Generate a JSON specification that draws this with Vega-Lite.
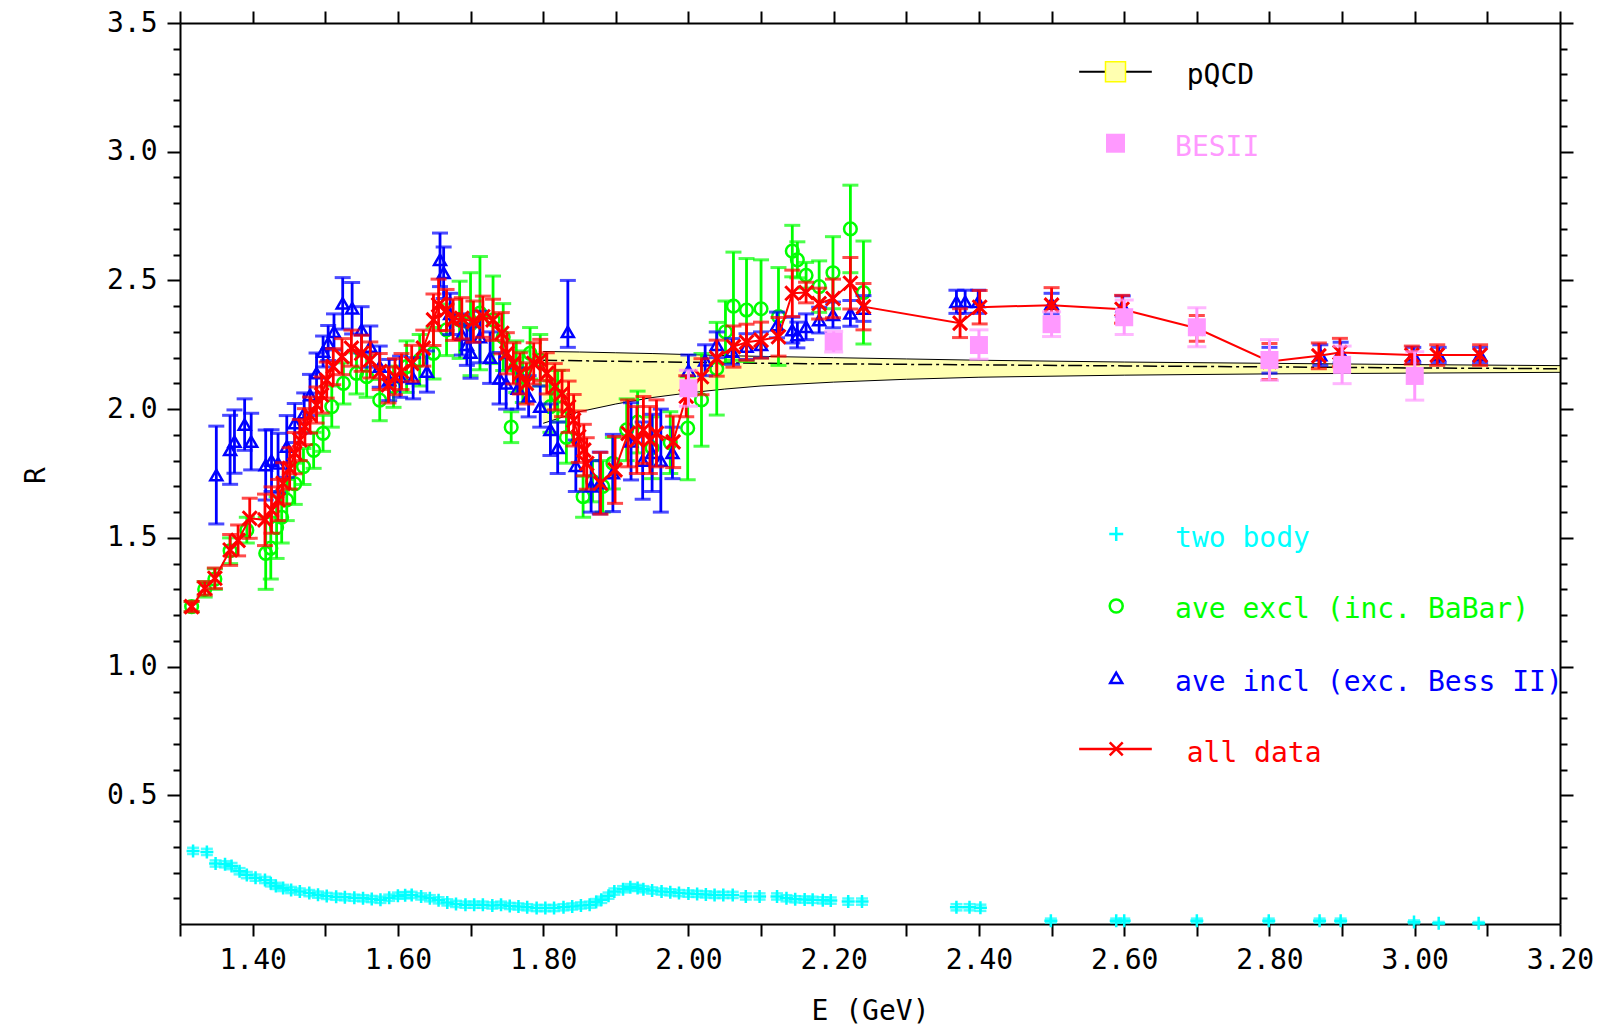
{
"$schema": "https://vega.github.io/schema/vega-lite/v6.json",
"width": 1380, "height": 901,
"autosize": {"type": "none"},
"padding": {"left": 180, "top": 23, "right": 42, "bottom": 101},
"background": "white",
"config": {"view": {"stroke": null}, "font": "DejaVu Sans Mono",
 "axis": {"domainColor": "black", "domainWidth": 2, "tickColor": "black", "tickWidth": 2, "grid": false, "labelFont": "DejaVu Sans Mono", "labelFontSize": 28, "labelColor": "black", "labelOverlap": false, "labelFlush": false, "labelBound": false, "titleFont": "DejaVu Sans Mono", "titleFontSize": 28, "titleFontWeight": "normal", "titleColor": "black"}},
"datasets": {
"qcd": [
{"E":1.80,"lo":1.945,"hi":2.224,"mid":2.19},{"E":1.85,"lo":1.99,"hi":2.222,"mid":2.188},{"E":1.90,"lo":2.02,"hi":2.219,"mid":2.186},{"E":1.95,"lo":2.045,"hi":2.216,"mid":2.184},{"E":2.00,"lo":2.063,"hi":2.212,"mid":2.182},{"E":2.05,"lo":2.078,"hi":2.208,"mid":2.18},{"E":2.10,"lo":2.09,"hi":2.205,"mid":2.178},{"E":2.20,"lo":2.105,"hi":2.2,"mid":2.176},{"E":2.30,"lo":2.116,"hi":2.195,"mid":2.174},{"E":2.40,"lo":2.124,"hi":2.19,"mid":2.172},{"E":2.60,"lo":2.132,"hi":2.183,"mid":2.168},{"E":2.80,"lo":2.137,"hi":2.178,"mid":2.164},{"E":3.00,"lo":2.14,"hi":2.173,"mid":2.16},{"E":3.20,"lo":2.143,"hi":2.169,"mid":2.157}
],
"pts": [
{"s":"all","E":1.316,"R":1.233,"lo":1.213,"hi":1.253},{"s":"all","E":1.334,"R":1.304,"lo":1.278,"hi":1.33},{"s":"all","E":1.348,"R":1.343,"lo":1.303,"hi":1.383},{"s":"all","E":1.369,"R":1.453,"lo":1.393,"hi":1.513},{"s":"all","E":1.38,"R":1.49,"lo":1.43,"hi":1.55},{"s":"all","E":1.396,"R":1.576,"lo":1.498,"hi":1.654},{"s":"all","E":1.417,"R":1.57,"lo":1.47,"hi":1.67},{"s":"all","E":1.426,"R":1.608,"lo":1.518,"hi":1.698},{"s":"all","E":1.435,"R":1.647,"lo":1.567,"hi":1.727},{"s":"all","E":1.442,"R":1.712,"lo":1.632,"hi":1.792},{"s":"all","E":1.451,"R":1.77,"lo":1.69,"hi":1.85},{"s":"all","E":1.458,"R":1.829,"lo":1.749,"hi":1.909},{"s":"all","E":1.465,"R":1.88,"lo":1.8,"hi":1.96},{"s":"all","E":1.472,"R":1.932,"lo":1.862,"hi":2.002},{"s":"all","E":1.479,"R":1.977,"lo":1.907,"hi":2.047},{"s":"all","E":1.488,"R":2.016,"lo":1.946,"hi":2.086},{"s":"all","E":1.495,"R":2.055,"lo":1.985,"hi":2.125},{"s":"all","E":1.502,"R":2.113,"lo":2.043,"hi":2.183},{"s":"all","E":1.511,"R":2.165,"lo":2.095,"hi":2.235},{"s":"all","E":1.523,"R":2.204,"lo":2.134,"hi":2.274},{"s":"all","E":1.536,"R":2.237,"lo":2.167,"hi":2.307},{"s":"all","E":1.55,"R":2.217,"lo":2.147,"hi":2.287},{"s":"all","E":1.562,"R":2.191,"lo":2.121,"hi":2.261},{"s":"all","E":1.575,"R":2.146,"lo":2.076,"hi":2.216},{"s":"all","E":1.587,"R":2.094,"lo":2.024,"hi":2.164},{"s":"all","E":1.596,"R":2.126,"lo":2.056,"hi":2.196},{"s":"all","E":1.605,"R":2.146,"lo":2.076,"hi":2.216},{"s":"all","E":1.619,"R":2.178,"lo":2.108,"hi":2.248},{"s":"all","E":1.635,"R":2.237,"lo":2.167,"hi":2.307},{"s":"all","E":1.649,"R":2.347,"lo":2.247,"hi":2.447},{"s":"all","E":1.656,"R":2.405,"lo":2.305,"hi":2.505},{"s":"all","E":1.667,"R":2.385,"lo":2.305,"hi":2.465},{"s":"all","E":1.676,"R":2.347,"lo":2.267,"hi":2.427},{"s":"all","E":1.688,"R":2.353,"lo":2.273,"hi":2.433},{"s":"all","E":1.704,"R":2.34,"lo":2.26,"hi":2.42},{"s":"all","E":1.717,"R":2.359,"lo":2.279,"hi":2.439},{"s":"all","E":1.731,"R":2.347,"lo":2.267,"hi":2.427},{"s":"all","E":1.743,"R":2.295,"lo":2.215,"hi":2.375},{"s":"all","E":1.75,"R":2.217,"lo":2.137,"hi":2.297},{"s":"all","E":1.759,"R":2.178,"lo":2.098,"hi":2.258},{"s":"all","E":1.768,"R":2.139,"lo":2.059,"hi":2.219},{"s":"all","E":1.777,"R":2.1,"lo":2.02,"hi":2.18},{"s":"all","E":1.787,"R":2.178,"lo":2.098,"hi":2.258},{"s":"all","E":1.796,"R":2.191,"lo":2.111,"hi":2.271},{"s":"all","E":1.805,"R":2.139,"lo":2.059,"hi":2.219},{"s":"all","E":1.816,"R":2.087,"lo":1.997,"hi":2.177},{"s":"all","E":1.826,"R":2.061,"lo":1.971,"hi":2.151},{"s":"all","E":1.835,"R":2.009,"lo":1.909,"hi":2.109},{"s":"all","E":1.842,"R":1.957,"lo":1.857,"hi":2.057},{"s":"all","E":1.849,"R":1.893,"lo":1.793,"hi":1.993},{"s":"all","E":1.856,"R":1.841,"lo":1.741,"hi":1.941},{"s":"all","E":1.86,"R":1.789,"lo":1.689,"hi":1.889},{"s":"all","E":1.879,"R":1.712,"lo":1.592,"hi":1.832},{"s":"all","E":1.899,"R":1.764,"lo":1.634,"hi":1.894},{"s":"all","E":1.917,"R":1.906,"lo":1.776,"hi":2.036},{"s":"all","E":1.929,"R":1.88,"lo":1.75,"hi":2.01},{"s":"all","E":1.938,"R":1.919,"lo":1.789,"hi":2.049},{"s":"all","E":1.947,"R":1.88,"lo":1.75,"hi":2.01},{"s":"all","E":1.956,"R":1.906,"lo":1.776,"hi":2.036},{"s":"all","E":1.979,"R":1.873,"lo":1.773,"hi":1.973},{"s":"all","E":1.997,"R":2.05,"lo":1.97,"hi":2.13},{"s":"all","E":2.018,"R":2.126,"lo":2.056,"hi":2.196},{"s":"all","E":2.039,"R":2.198,"lo":2.128,"hi":2.268},{"s":"all","E":2.062,"R":2.243,"lo":2.163,"hi":2.323},{"s":"all","E":2.08,"R":2.26,"lo":2.19,"hi":2.33},{"s":"all","E":2.1,"R":2.268,"lo":2.198,"hi":2.338},{"s":"all","E":2.124,"R":2.281,"lo":2.206,"hi":2.356},{"s":"all","E":2.143,"R":2.45,"lo":2.36,"hi":2.54},{"s":"all","E":2.162,"R":2.453,"lo":2.413,"hi":2.493},{"s":"all","E":2.18,"R":2.41,"lo":2.35,"hi":2.47},{"s":"all","E":2.199,"R":2.43,"lo":2.355,"hi":2.505},{"s":"all","E":2.223,"R":2.489,"lo":2.389,"hi":2.589},{"s":"all","E":2.241,"R":2.398,"lo":2.308,"hi":2.488},{"s":"all","E":2.374,"R":2.334,"lo":2.278,"hi":2.39},{"s":"all","E":2.401,"R":2.396,"lo":2.331,"hi":2.461},{"s":"all","E":2.5,"R":2.404,"lo":2.336,"hi":2.472},{"s":"all","E":2.597,"R":2.388,"lo":2.334,"hi":2.442},{"s":"all","E":2.7,"R":2.314,"lo":2.264,"hi":2.364},{"s":"all","E":2.8,"R":2.185,"lo":2.115,"hi":2.255},{"s":"all","E":2.868,"R":2.207,"lo":2.157,"hi":2.257},{"s":"all","E":2.897,"R":2.22,"lo":2.165,"hi":2.275},{"s":"all","E":2.996,"R":2.21,"lo":2.175,"hi":2.245},{"s":"all","E":3.031,"R":2.21,"lo":2.17,"hi":2.25},{"s":"all","E":3.09,"R":2.21,"lo":2.17,"hi":2.25},
{"s":"excl","E":1.316,"R":1.233,"lo":1.213,"hi":1.253},{"s":"excl","E":1.334,"R":1.3,"lo":1.27,"hi":1.33},{"s":"excl","E":1.348,"R":1.34,"lo":1.3,"hi":1.38},{"s":"excl","E":1.369,"R":1.45,"lo":1.4,"hi":1.5},{"s":"excl","E":1.392,"R":1.53,"lo":1.48,"hi":1.58},{"s":"excl","E":1.418,"R":1.44,"lo":1.3,"hi":1.58},{"s":"excl","E":1.425,"R":1.46,"lo":1.34,"hi":1.58},{"s":"excl","E":1.433,"R":1.54,"lo":1.42,"hi":1.66},{"s":"excl","E":1.44,"R":1.58,"lo":1.48,"hi":1.68},{"s":"excl","E":1.447,"R":1.647,"lo":1.567,"hi":1.727},{"s":"excl","E":1.458,"R":1.71,"lo":1.63,"hi":1.79},{"s":"excl","E":1.47,"R":1.777,"lo":1.707,"hi":1.847},{"s":"excl","E":1.484,"R":1.84,"lo":1.77,"hi":1.91},{"s":"excl","E":1.497,"R":1.906,"lo":1.836,"hi":1.976},{"s":"excl","E":1.509,"R":2.01,"lo":1.93,"hi":2.09},{"s":"excl","E":1.525,"R":2.1,"lo":2.02,"hi":2.18},{"s":"excl","E":1.543,"R":2.139,"lo":2.059,"hi":2.219},{"s":"excl","E":1.557,"R":2.126,"lo":2.046,"hi":2.206},{"s":"excl","E":1.575,"R":2.035,"lo":1.955,"hi":2.115},{"s":"excl","E":1.594,"R":2.087,"lo":2.007,"hi":2.167},{"s":"excl","E":1.612,"R":2.165,"lo":2.065,"hi":2.265},{"s":"excl","E":1.63,"R":2.19,"lo":2.09,"hi":2.29},{"s":"excl","E":1.649,"R":2.217,"lo":2.117,"hi":2.317},{"s":"excl","E":1.667,"R":2.308,"lo":2.208,"hi":2.408},{"s":"excl","E":1.685,"R":2.347,"lo":2.197,"hi":2.497},{"s":"excl","E":1.7,"R":2.33,"lo":2.13,"hi":2.53},{"s":"excl","E":1.713,"R":2.373,"lo":2.153,"hi":2.593},{"s":"excl","E":1.731,"R":2.347,"lo":2.177,"hi":2.517},{"s":"excl","E":1.745,"R":2.28,"lo":2.15,"hi":2.41},{"s":"excl","E":1.756,"R":1.93,"lo":1.87,"hi":1.99},{"s":"excl","E":1.763,"R":2.165,"lo":2.065,"hi":2.265},{"s":"excl","E":1.772,"R":2.126,"lo":2.026,"hi":2.226},{"s":"excl","E":1.782,"R":2.217,"lo":2.117,"hi":2.317},{"s":"excl","E":1.796,"R":2.19,"lo":2.09,"hi":2.29},{"s":"excl","E":1.81,"R":2.01,"lo":1.91,"hi":2.11},{"s":"excl","E":1.82,"R":2.05,"lo":1.95,"hi":2.15},{"s":"excl","E":1.832,"R":1.89,"lo":1.79,"hi":1.99},{"s":"excl","E":1.855,"R":1.66,"lo":1.58,"hi":1.74},{"s":"excl","E":1.868,"R":1.72,"lo":1.64,"hi":1.8},{"s":"excl","E":1.882,"R":1.7,"lo":1.6,"hi":1.8},{"s":"excl","E":1.896,"R":1.79,"lo":1.69,"hi":1.89},{"s":"excl","E":1.915,"R":1.92,"lo":1.8,"hi":2.04},{"s":"excl","E":1.93,"R":1.95,"lo":1.83,"hi":2.07},{"s":"excl","E":1.95,"R":1.85,"lo":1.73,"hi":1.97},{"s":"excl","E":1.975,"R":1.87,"lo":1.75,"hi":1.99},{"s":"excl","E":1.999,"R":1.926,"lo":1.726,"hi":2.126},{"s":"excl","E":2.018,"R":2.036,"lo":1.856,"hi":2.216},{"s":"excl","E":2.039,"R":2.157,"lo":1.977,"hi":2.337},{"s":"excl","E":2.051,"R":2.3,"lo":2.18,"hi":2.42},{"s":"excl","E":2.062,"R":2.4,"lo":2.19,"hi":2.61},{"s":"excl","E":2.08,"R":2.385,"lo":2.185,"hi":2.585},{"s":"excl","E":2.1,"R":2.39,"lo":2.2,"hi":2.58},{"s":"excl","E":2.124,"R":2.36,"lo":2.17,"hi":2.55},{"s":"excl","E":2.143,"R":2.614,"lo":2.514,"hi":2.714},{"s":"excl","E":2.15,"R":2.58,"lo":2.51,"hi":2.65},{"s":"excl","E":2.162,"R":2.52,"lo":2.47,"hi":2.57},{"s":"excl","E":2.18,"R":2.476,"lo":2.376,"hi":2.576},{"s":"excl","E":2.199,"R":2.53,"lo":2.39,"hi":2.67},{"s":"excl","E":2.223,"R":2.7,"lo":2.53,"hi":2.87},{"s":"excl","E":2.241,"R":2.453,"lo":2.253,"hi":2.653},
{"s":"incl","E":1.35,"R":1.744,"lo":1.554,"hi":1.934},{"s":"incl","E":1.369,"R":1.842,"lo":1.708,"hi":1.976},{"s":"incl","E":1.375,"R":1.874,"lo":1.751,"hi":1.997},{"s":"incl","E":1.389,"R":1.94,"lo":1.84,"hi":2.04},{"s":"incl","E":1.398,"R":1.874,"lo":1.764,"hi":1.984},{"s":"incl","E":1.418,"R":1.783,"lo":1.647,"hi":1.919},{"s":"incl","E":1.426,"R":1.8,"lo":1.68,"hi":1.92},{"s":"incl","E":1.435,"R":1.79,"lo":1.674,"hi":1.906},{"s":"incl","E":1.447,"R":1.855,"lo":1.735,"hi":1.975},{"s":"incl","E":1.458,"R":1.946,"lo":1.87,"hi":2.022},{"s":"incl","E":1.471,"R":1.985,"lo":1.907,"hi":2.063},{"s":"incl","E":1.479,"R":2.055,"lo":1.975,"hi":2.135},{"s":"incl","E":1.488,"R":2.14,"lo":2.062,"hi":2.218},{"s":"incl","E":1.497,"R":2.224,"lo":2.164,"hi":2.284},{"s":"incl","E":1.504,"R":2.257,"lo":2.189,"hi":2.325},{"s":"incl","E":1.512,"R":2.3,"lo":2.23,"hi":2.37},{"s":"incl","E":1.524,"R":2.411,"lo":2.311,"hi":2.511},{"s":"incl","E":1.537,"R":2.392,"lo":2.292,"hi":2.492},{"s":"incl","E":1.55,"R":2.308,"lo":2.218,"hi":2.398},{"s":"incl","E":1.562,"R":2.243,"lo":2.163,"hi":2.323},{"s":"incl","E":1.575,"R":2.165,"lo":2.085,"hi":2.245},{"s":"incl","E":1.588,"R":2.113,"lo":2.033,"hi":2.193},{"s":"incl","E":1.603,"R":2.126,"lo":2.046,"hi":2.206},{"s":"incl","E":1.621,"R":2.12,"lo":2.04,"hi":2.2},{"s":"incl","E":1.64,"R":2.146,"lo":2.066,"hi":2.226},{"s":"incl","E":1.658,"R":2.58,"lo":2.476,"hi":2.684},{"s":"incl","E":1.663,"R":2.53,"lo":2.43,"hi":2.63},{"s":"incl","E":1.672,"R":2.37,"lo":2.29,"hi":2.45},{"s":"incl","E":1.688,"R":2.29,"lo":2.21,"hi":2.37},{"s":"incl","E":1.695,"R":2.25,"lo":2.17,"hi":2.33},{"s":"incl","E":1.7,"R":2.22,"lo":2.12,"hi":2.32},{"s":"incl","E":1.713,"R":2.28,"lo":2.18,"hi":2.38},{"s":"incl","E":1.727,"R":2.2,"lo":2.1,"hi":2.3},{"s":"incl","E":1.74,"R":2.12,"lo":2.02,"hi":2.22},{"s":"incl","E":1.749,"R":2.1,"lo":2.0,"hi":2.2},{"s":"incl","E":1.765,"R":2.08,"lo":2.0,"hi":2.16},{"s":"incl","E":1.78,"R":2.05,"lo":1.97,"hi":2.13},{"s":"incl","E":1.796,"R":2.01,"lo":1.93,"hi":2.09},{"s":"incl","E":1.81,"R":1.92,"lo":1.82,"hi":2.02},{"s":"incl","E":1.82,"R":1.85,"lo":1.75,"hi":1.95},{"s":"incl","E":1.834,"R":2.3,"lo":2.24,"hi":2.5},{"s":"incl","E":1.845,"R":1.78,"lo":1.68,"hi":1.88},{"s":"incl","E":1.866,"R":1.7,"lo":1.6,"hi":1.8},{"s":"incl","E":1.878,"R":1.713,"lo":1.593,"hi":1.833},{"s":"incl","E":1.896,"R":1.752,"lo":1.602,"hi":1.902},{"s":"incl","E":1.921,"R":1.875,"lo":1.725,"hi":2.025},{"s":"incl","E":1.937,"R":1.8,"lo":1.65,"hi":1.95},{"s":"incl","E":1.95,"R":1.83,"lo":1.68,"hi":1.98},{"s":"incl","E":1.962,"R":1.8,"lo":1.6,"hi":2.0},{"s":"incl","E":1.978,"R":1.83,"lo":1.73,"hi":1.93},{"s":"incl","E":2.0,"R":2.15,"lo":2.09,"hi":2.21},{"s":"incl","E":2.023,"R":2.19,"lo":2.13,"hi":2.25},{"s":"incl","E":2.039,"R":2.25,"lo":2.2,"hi":2.3},{"s":"incl","E":2.06,"R":2.224,"lo":2.174,"hi":2.274},{"s":"incl","E":2.08,"R":2.243,"lo":2.193,"hi":2.293},{"s":"incl","E":2.1,"R":2.25,"lo":2.2,"hi":2.3},{"s":"incl","E":2.122,"R":2.327,"lo":2.277,"hi":2.377},{"s":"incl","E":2.143,"R":2.307,"lo":2.257,"hi":2.357},{"s":"incl","E":2.15,"R":2.288,"lo":2.238,"hi":2.338},{"s":"incl","E":2.162,"R":2.32,"lo":2.27,"hi":2.37},{"s":"incl","E":2.18,"R":2.346,"lo":2.296,"hi":2.396},{"s":"incl","E":2.199,"R":2.366,"lo":2.316,"hi":2.416},{"s":"incl","E":2.223,"R":2.372,"lo":2.322,"hi":2.422},{"s":"incl","E":2.241,"R":2.391,"lo":2.341,"hi":2.441},{"s":"incl","E":2.369,"R":2.417,"lo":2.372,"hi":2.462},{"s":"incl","E":2.381,"R":2.417,"lo":2.372,"hi":2.462},{"s":"incl","E":2.399,"R":2.417,"lo":2.372,"hi":2.462},{"s":"incl","E":2.5,"R":2.41,"lo":2.37,"hi":2.45},{"s":"incl","E":2.598,"R":2.4,"lo":2.36,"hi":2.44},{"s":"incl","E":2.8,"R":2.19,"lo":2.14,"hi":2.24},{"s":"incl","E":2.87,"R":2.21,"lo":2.17,"hi":2.25},{"s":"incl","E":2.898,"R":2.22,"lo":2.18,"hi":2.26},{"s":"incl","E":2.998,"R":2.21,"lo":2.18,"hi":2.24},{"s":"incl","E":3.033,"R":2.21,"lo":2.18,"hi":2.24},{"s":"incl","E":3.09,"R":2.21,"lo":2.18,"hi":2.24},
{"s":"bes","E":2.0,"R":2.081,"lo":2.011,"hi":2.151},{"s":"bes","E":2.2,"R":2.262,"lo":2.222,"hi":2.302},{"s":"bes","E":2.4,"R":2.249,"lo":2.194,"hi":2.308},{"s":"bes","E":2.5,"R":2.33,"lo":2.282,"hi":2.378},{"s":"bes","E":2.6,"R":2.357,"lo":2.29,"hi":2.424},{"s":"bes","E":2.7,"R":2.318,"lo":2.242,"hi":2.394},{"s":"bes","E":2.8,"R":2.191,"lo":2.112,"hi":2.27},{"s":"bes","E":2.9,"R":2.172,"lo":2.099,"hi":2.245},{"s":"bes","E":3.0,"R":2.129,"lo":2.035,"hi":2.223},
{"s":"two","E":1.318,"R":0.284,"lo":0.272,"hi":0.296},{"s":"two","E":1.337,"R":0.28,"lo":0.268,"hi":0.292},{"s":"two","E":1.349,"R":0.235,"lo":0.223,"hi":0.247},{"s":"two","E":1.362,"R":0.232,"lo":0.22,"hi":0.244},{"s":"two","E":1.371,"R":0.225,"lo":0.213,"hi":0.237},{"s":"two","E":1.382,"R":0.205,"lo":0.193,"hi":0.217},{"s":"two","E":1.392,"R":0.19,"lo":0.178,"hi":0.202},{"s":"two","E":1.404,"R":0.18,"lo":0.168,"hi":0.192},{"s":"two","E":1.417,"R":0.171,"lo":0.159,"hi":0.183},{"s":"two","E":1.425,"R":0.158,"lo":0.146,"hi":0.17},{"s":"two","E":1.432,"R":0.148,"lo":0.136,"hi":0.16},{"s":"two","E":1.442,"R":0.14,"lo":0.128,"hi":0.152},{"s":"two","E":1.453,"R":0.132,"lo":0.12,"hi":0.144},{"s":"two","E":1.465,"R":0.126,"lo":0.114,"hi":0.138},{"s":"two","E":1.478,"R":0.12,"lo":0.108,"hi":0.132},{"s":"two","E":1.49,"R":0.114,"lo":0.102,"hi":0.126},{"s":"two","E":1.502,"R":0.109,"lo":0.097,"hi":0.121},{"s":"two","E":1.515,"R":0.106,"lo":0.094,"hi":0.118},{"s":"two","E":1.527,"R":0.104,"lo":0.092,"hi":0.116},{"s":"two","E":1.54,"R":0.102,"lo":0.09,"hi":0.114},{"s":"two","E":1.552,"R":0.1,"lo":0.088,"hi":0.112},{"s":"two","E":1.564,"R":0.097,"lo":0.085,"hi":0.109},{"s":"two","E":1.576,"R":0.094,"lo":0.082,"hi":0.106},{"s":"two","E":1.588,"R":0.102,"lo":0.09,"hi":0.114},{"s":"two","E":1.6,"R":0.11,"lo":0.098,"hi":0.122},{"s":"two","E":1.61,"R":0.112,"lo":0.1,"hi":0.124},{"s":"two","E":1.619,"R":0.113,"lo":0.101,"hi":0.125},{"s":"two","E":1.632,"R":0.107,"lo":0.095,"hi":0.119},{"s":"two","E":1.644,"R":0.1,"lo":0.088,"hi":0.112},{"s":"two","E":1.656,"R":0.092,"lo":0.08,"hi":0.104},{"s":"two","E":1.668,"R":0.084,"lo":0.072,"hi":0.096},{"s":"two","E":1.68,"R":0.078,"lo":0.066,"hi":0.09},{"s":"two","E":1.693,"R":0.075,"lo":0.063,"hi":0.087},{"s":"two","E":1.705,"R":0.075,"lo":0.063,"hi":0.087},{"s":"two","E":1.717,"R":0.075,"lo":0.063,"hi":0.087},{"s":"two","E":1.73,"R":0.072,"lo":0.06,"hi":0.084},{"s":"two","E":1.742,"R":0.075,"lo":0.063,"hi":0.087},{"s":"two","E":1.754,"R":0.07,"lo":0.058,"hi":0.082},{"s":"two","E":1.766,"R":0.068,"lo":0.056,"hi":0.08},{"s":"two","E":1.778,"R":0.065,"lo":0.053,"hi":0.077},{"s":"two","E":1.791,"R":0.062,"lo":0.05,"hi":0.074},{"s":"two","E":1.803,"R":0.062,"lo":0.05,"hi":0.074},{"s":"two","E":1.815,"R":0.062,"lo":0.05,"hi":0.074},{"s":"two","E":1.828,"R":0.065,"lo":0.053,"hi":0.077},{"s":"two","E":1.84,"R":0.068,"lo":0.056,"hi":0.08},{"s":"two","E":1.852,"R":0.072,"lo":0.06,"hi":0.084},{"s":"two","E":1.864,"R":0.075,"lo":0.063,"hi":0.087},{"s":"two","E":1.873,"R":0.085,"lo":0.073,"hi":0.097},{"s":"two","E":1.88,"R":0.094,"lo":0.082,"hi":0.106},{"s":"two","E":1.89,"R":0.11,"lo":0.098,"hi":0.122},{"s":"two","E":1.898,"R":0.126,"lo":0.114,"hi":0.138},{"s":"two","E":1.91,"R":0.135,"lo":0.123,"hi":0.147},{"s":"two","E":1.92,"R":0.143,"lo":0.131,"hi":0.155},{"s":"two","E":1.93,"R":0.14,"lo":0.128,"hi":0.152},{"s":"two","E":1.938,"R":0.135,"lo":0.123,"hi":0.147},{"s":"two","E":1.95,"R":0.13,"lo":0.118,"hi":0.142},{"s":"two","E":1.963,"R":0.126,"lo":0.114,"hi":0.138},{"s":"two","E":1.975,"R":0.123,"lo":0.111,"hi":0.135},{"s":"two","E":1.987,"R":0.12,"lo":0.108,"hi":0.132},{"s":"two","E":2.0,"R":0.118,"lo":0.106,"hi":0.13},{"s":"two","E":2.012,"R":0.117,"lo":0.105,"hi":0.129},{"s":"two","E":2.024,"R":0.115,"lo":0.103,"hi":0.127},{"s":"two","E":2.036,"R":0.113,"lo":0.101,"hi":0.125},{"s":"two","E":2.048,"R":0.113,"lo":0.101,"hi":0.125},{"s":"two","E":2.061,"R":0.113,"lo":0.101,"hi":0.125},{"s":"two","E":2.079,"R":0.107,"lo":0.095,"hi":0.119},{"s":"two","E":2.098,"R":0.107,"lo":0.095,"hi":0.119},{"s":"two","E":2.122,"R":0.107,"lo":0.095,"hi":0.119},{"s":"two","E":2.135,"R":0.1,"lo":0.088,"hi":0.112},{"s":"two","E":2.147,"R":0.096,"lo":0.084,"hi":0.108},{"s":"two","E":2.16,"R":0.095,"lo":0.083,"hi":0.107},{"s":"two","E":2.171,"R":0.094,"lo":0.082,"hi":0.106},{"s":"two","E":2.185,"R":0.092,"lo":0.08,"hi":0.104},{"s":"two","E":2.196,"R":0.091,"lo":0.079,"hi":0.103},{"s":"two","E":2.22,"R":0.087,"lo":0.075,"hi":0.099},{"s":"two","E":2.239,"R":0.087,"lo":0.075,"hi":0.099},{"s":"two","E":2.369,"R":0.065,"lo":0.053,"hi":0.077},{"s":"two","E":2.387,"R":0.065,"lo":0.053,"hi":0.077},{"s":"two","E":2.402,"R":0.063,"lo":0.051,"hi":0.075},{"s":"two","E":2.499,"R":0.013,"lo":0.005,"hi":0.021},{"s":"two","E":2.589,"R":0.013,"lo":0.005,"hi":0.021},{"s":"two","E":2.6,"R":0.013,"lo":0.005,"hi":0.021},{"s":"two","E":2.7,"R":0.013,"lo":0.005,"hi":0.021},{"s":"two","E":2.799,"R":0.013,"lo":0.005,"hi":0.021},{"s":"two","E":2.869,"R":0.013,"lo":0.005,"hi":0.021},{"s":"two","E":2.898,"R":0.013,"lo":0.005,"hi":0.021},{"s":"two","E":2.999,"R":0.008,"lo":0.002,"hi":0.014},{"s":"two","E":3.033,"R":0.003,"lo":0.0,"hi":0.008},{"s":"two","E":3.088,"R":0.003,"lo":0.0,"hi":0.008}
]
},
"layer": [
{"data": {"name": "qcd"}, "mark": {"type": "area", "fill": "#ffff00", "fillOpacity": 0.3},
 "encoding": {
  "x": {"field": "E", "type": "quantitative", "scale": {"domain": [1.3, 3.2], "nice": false, "zero": false},
   "axis": {"orient": "bottom", "values": [1.3,1.4,1.5,1.6,1.7,1.8,1.9,2.0,2.1,2.2,2.3,2.4,2.5,2.6,2.7,2.8,2.9,3.0,3.1,3.2], "tickSize": 12, "labelPadding": 10, "labelExpr": "round(datum.value*10)%2==0 ? format(datum.value,'.2f') : ''", "title": "E (GeV)", "titleX": 690, "titleY": 95, "titleAlign": "center", "titleBaseline": "alphabetic"}},
  "y": {"field": "hi", "type": "quantitative", "scale": {"domain": [0, 3.5], "nice": false, "zero": false},
   "axis": {"orient": "left", "values": [0.5,1.0,1.5,2.0,2.5,3.0,3.5], "tickSize": 13, "labelPadding": 10, "format": ".1f", "title": "R", "titleAngle": -90, "titleX": -144, "titleY": 452, "titleAlign": "center", "titleBaseline": "middle"}},
  "y2": {"field": "lo"}}},
{"data": {"name": "qcd"}, "mark": {"type": "line", "stroke": "black", "strokeWidth": 1},
 "encoding": {
  "x": {"field": "E", "type": "quantitative", "scale": {"domain": [1.3, 3.2], "nice": false, "zero": false},
   "axis": {"orient": "top", "values": [1.3,1.4,1.5,1.6,1.7,1.8,1.9,2.0,2.1,2.2,2.3,2.4,2.5,2.6,2.7,2.8,2.9,3.0,3.1,3.2], "tickSize": 12, "labels": false, "title": null}},
  "y": {"field": "hi", "type": "quantitative", "scale": {"domain": [0, 3.5], "nice": false, "zero": false},
   "axis": {"orient": "right", "values": [0.5,1.0,1.5,2.0,2.5,3.0,3.5], "tickSize": 13, "labels": false, "title": null}}}},
{"data": {"name": "qcd"}, "mark": {"type": "line", "stroke": "black", "strokeWidth": 1},
 "encoding": {
  "x": {"field": "E", "type": "quantitative", "scale": {"domain": [1.3, 3.2], "nice": false, "zero": false}, "axis": null},
  "y": {"field": "lo", "type": "quantitative", "scale": {"domain": [0, 3.5], "nice": false, "zero": false},
   "axis": {"orient": "left", "values": [0.1,0.2,0.3,0.4,0.6,0.7,0.8,0.9,1.1,1.2,1.3,1.4,1.6,1.7,1.8,1.9,2.1,2.2,2.3,2.4,2.6,2.7,2.8,2.9,3.1,3.2,3.3,3.4], "tickSize": 7, "labels": false, "domain": false, "title": null}}}},
{"data": {"name": "qcd"}, "mark": {"type": "line", "stroke": "black", "strokeWidth": 1.5, "strokeDash": [14, 4, 3, 4]},
 "encoding": {
  "x": {"field": "E", "type": "quantitative", "scale": {"domain": [1.3, 3.2], "nice": false, "zero": false}, "axis": null},
  "y": {"field": "mid", "type": "quantitative", "scale": {"domain": [0, 3.5], "nice": false, "zero": false},
   "axis": {"orient": "right", "values": [0.1,0.2,0.3,0.4,0.6,0.7,0.8,0.9,1.1,1.2,1.3,1.4,1.6,1.7,1.8,1.9,2.1,2.2,2.3,2.4,2.6,2.7,2.8,2.9,3.1,3.2,3.3,3.4], "tickSize": 7, "labels": false, "domain": false, "title": null}}}},

{"data": {"name": "pts"}, "transform": [{"filter": "datum.s=='excl'"}], "mark": {"type": "rule", "color": "#00ff00", "strokeWidth": 2.8},
 "encoding": {"x": {"field": "E", "type": "quantitative", "scale": {"domain": [1.3, 3.2], "nice": false, "zero": false}, "axis": null}, "y": {"field": "lo", "type": "quantitative", "scale": {"domain": [0, 3.5], "nice": false, "zero": false}, "axis": null}, "y2": {"field": "hi"}}},
{"data": {"name": "pts"}, "transform": [{"filter": "datum.s=='excl'"}, {"fold": ["lo", "hi"], "as": ["k", "v"]}], "mark": {"type": "tick", "orient": "horizontal", "color": "#00ff00", "size": 16, "thickness": 3},
 "encoding": {"x": {"field": "E", "type": "quantitative", "scale": {"domain": [1.3, 3.2], "nice": false, "zero": false}, "axis": null}, "y": {"field": "v", "type": "quantitative", "scale": {"domain": [0, 3.5], "nice": false, "zero": false}, "axis": null}}},
{"data": {"name": "pts"}, "transform": [{"filter": "datum.s=='excl'"}], "mark": {"type": "point", "shape": "circle", "filled": false, "stroke": "#00ff00", "strokeWidth": 2.5, "size": 160, "opacity": 1},
 "encoding": {"x": {"field": "E", "type": "quantitative", "scale": {"domain": [1.3, 3.2], "nice": false, "zero": false}, "axis": null}, "y": {"field": "R", "type": "quantitative", "scale": {"domain": [0, 3.5], "nice": false, "zero": false}, "axis": null}}},

{"data": {"name": "pts"}, "transform": [{"filter": "datum.s=='incl'"}], "mark": {"type": "rule", "color": "#0000ff", "strokeWidth": 2.8},
 "encoding": {"x": {"field": "E", "type": "quantitative", "scale": {"domain": [1.3, 3.2], "nice": false, "zero": false}, "axis": null}, "y": {"field": "lo", "type": "quantitative", "scale": {"domain": [0, 3.5], "nice": false, "zero": false}, "axis": null}, "y2": {"field": "hi"}}},
{"data": {"name": "pts"}, "transform": [{"filter": "datum.s=='incl'"}, {"fold": ["lo", "hi"], "as": ["k", "v"]}], "mark": {"type": "tick", "orient": "horizontal", "color": "#0000ff", "size": 16, "thickness": 3},
 "encoding": {"x": {"field": "E", "type": "quantitative", "scale": {"domain": [1.3, 3.2], "nice": false, "zero": false}, "axis": null}, "y": {"field": "v", "type": "quantitative", "scale": {"domain": [0, 3.5], "nice": false, "zero": false}, "axis": null}}},
{"data": {"name": "pts"}, "transform": [{"filter": "datum.s=='incl'"}], "mark": {"type": "point", "shape": "triangle-up", "filled": false, "stroke": "#0000ff", "strokeWidth": 2.5, "size": 144, "opacity": 1},
 "encoding": {"x": {"field": "E", "type": "quantitative", "scale": {"domain": [1.3, 3.2], "nice": false, "zero": false}, "axis": null}, "y": {"field": "R", "type": "quantitative", "scale": {"domain": [0, 3.5], "nice": false, "zero": false}, "axis": null}}},

{"data": {"name": "pts"}, "transform": [{"filter": "datum.s=='all'"}], "mark": {"type": "line", "color": "#ff0000", "strokeWidth": 2},
 "encoding": {"x": {"field": "E", "type": "quantitative", "scale": {"domain": [1.3, 3.2], "nice": false, "zero": false}, "axis": null}, "y": {"field": "R", "type": "quantitative", "scale": {"domain": [0, 3.5], "nice": false, "zero": false}, "axis": null}}},
{"data": {"name": "pts"}, "transform": [{"filter": "datum.s=='all'"}], "mark": {"type": "rule", "color": "#ff0000", "strokeWidth": 2.8},
 "encoding": {"x": {"field": "E", "type": "quantitative", "scale": {"domain": [1.3, 3.2], "nice": false, "zero": false}, "axis": null}, "y": {"field": "lo", "type": "quantitative", "scale": {"domain": [0, 3.5], "nice": false, "zero": false}, "axis": null}, "y2": {"field": "hi"}}},
{"data": {"name": "pts"}, "transform": [{"filter": "datum.s=='all'"}, {"fold": ["lo", "hi"], "as": ["k", "v"]}], "mark": {"type": "tick", "orient": "horizontal", "color": "#ff0000", "size": 16, "thickness": 3},
 "encoding": {"x": {"field": "E", "type": "quantitative", "scale": {"domain": [1.3, 3.2], "nice": false, "zero": false}, "axis": null}, "y": {"field": "v", "type": "quantitative", "scale": {"domain": [0, 3.5], "nice": false, "zero": false}, "axis": null}}},
{"data": {"name": "pts"}, "transform": [{"filter": "datum.s=='all'"}], "mark": {"type": "point", "shape": "M-1,-1L1,1M-1,1L1,-1", "filled": false, "stroke": "#ff0000", "strokeWidth": 3, "size": 196, "opacity": 1},
 "encoding": {"x": {"field": "E", "type": "quantitative", "scale": {"domain": [1.3, 3.2], "nice": false, "zero": false}, "axis": null}, "y": {"field": "R", "type": "quantitative", "scale": {"domain": [0, 3.5], "nice": false, "zero": false}, "axis": null}}},

{"data": {"name": "pts"}, "transform": [{"filter": "datum.s=='bes'"}], "mark": {"type": "rule", "color": "#ff99ff", "strokeWidth": 3},
 "encoding": {"x": {"field": "E", "type": "quantitative", "scale": {"domain": [1.3, 3.2], "nice": false, "zero": false}, "axis": null}, "y": {"field": "lo", "type": "quantitative", "scale": {"domain": [0, 3.5], "nice": false, "zero": false}, "axis": null}, "y2": {"field": "hi"}}},
{"data": {"name": "pts"}, "transform": [{"filter": "datum.s=='bes'"}, {"fold": ["lo", "hi"], "as": ["k", "v"]}], "mark": {"type": "tick", "orient": "horizontal", "color": "#ff99ff", "size": 19, "thickness": 3},
 "encoding": {"x": {"field": "E", "type": "quantitative", "scale": {"domain": [1.3, 3.2], "nice": false, "zero": false}, "axis": null}, "y": {"field": "v", "type": "quantitative", "scale": {"domain": [0, 3.5], "nice": false, "zero": false}, "axis": null}}},
{"data": {"name": "pts"}, "transform": [{"filter": "datum.s=='bes'"}], "mark": {"type": "point", "shape": "square", "filled": true, "fill": "#ff99ff", "size": 324, "opacity": 1},
 "encoding": {"x": {"field": "E", "type": "quantitative", "scale": {"domain": [1.3, 3.2], "nice": false, "zero": false}, "axis": null}, "y": {"field": "R", "type": "quantitative", "scale": {"domain": [0, 3.5], "nice": false, "zero": false}, "axis": null}}},

{"data": {"name": "pts"}, "transform": [{"filter": "datum.s=='two'"}], "mark": {"type": "rule", "color": "#00ffff", "strokeWidth": 2.5},
 "encoding": {"x": {"field": "E", "type": "quantitative", "scale": {"domain": [1.3, 3.2], "nice": false, "zero": false}, "axis": null}, "y": {"field": "lo", "type": "quantitative", "scale": {"domain": [0, 3.5], "nice": false, "zero": false}, "axis": null}, "y2": {"field": "hi"}}},
{"data": {"name": "pts"}, "transform": [{"filter": "datum.s=='two'"}, {"fold": ["lo", "hi"], "as": ["k", "v"]}], "mark": {"type": "tick", "orient": "horizontal", "color": "#00ffff", "size": 12, "thickness": 2.5},
 "encoding": {"x": {"field": "E", "type": "quantitative", "scale": {"domain": [1.3, 3.2], "nice": false, "zero": false}, "axis": null}, "y": {"field": "v", "type": "quantitative", "scale": {"domain": [0, 3.5], "nice": false, "zero": false}, "axis": null}}},
{"data": {"name": "pts"}, "transform": [{"filter": "datum.s=='two'"}], "mark": {"type": "point", "shape": "M-1,0L1,0M0,-1L0,1", "filled": false, "stroke": "#00ffff", "strokeWidth": 2.5, "size": 169, "opacity": 1},
 "encoding": {"x": {"field": "E", "type": "quantitative", "scale": {"domain": [1.3, 3.2], "nice": false, "zero": false}, "axis": null}, "y": {"field": "R", "type": "quantitative", "scale": {"domain": [0, 3.5], "nice": false, "zero": false}, "axis": null}}},

{"data": {"values": [{}]}, "mark": {"type": "rule", "color": "black", "strokeWidth": 2},
 "encoding": {"x": {"datum": 2.538, "type": "quantitative", "scale": {"domain": [1.3, 3.2], "nice": false, "zero": false}, "axis": null}, "x2": {"datum": 2.638}, "y": {"datum": 3.311, "type": "quantitative", "scale": {"domain": [0, 3.5], "nice": false, "zero": false}, "axis": null}}},
{"data": {"values": [{}]}, "mark": {"type": "point", "shape": "square", "filled": true, "fill": "#ffffb0", "stroke": "#ffff00", "strokeWidth": 1.5, "size": 400, "opacity": 1},
 "encoding": {"x": {"datum": 2.588, "type": "quantitative", "scale": {"domain": [1.3, 3.2], "nice": false, "zero": false}, "axis": null}, "y": {"datum": 3.311, "type": "quantitative", "scale": {"domain": [0, 3.5], "nice": false, "zero": false}, "axis": null}}},
{"data": {"values": [{}]}, "mark": {"type": "text", "text": "pQCD", "align": "left", "baseline": "alphabetic", "fontSize": 28, "color": "black"},
 "encoding": {"x": {"datum": 2.686, "type": "quantitative", "scale": {"domain": [1.3, 3.2], "nice": false, "zero": false}, "axis": null}, "y": {"datum": 3.263, "type": "quantitative", "scale": {"domain": [0, 3.5], "nice": false, "zero": false}, "axis": null}}},
{"data": {"values": [{}]}, "mark": {"type": "point", "shape": "square", "filled": true, "fill": "#ff99ff", "size": 361, "opacity": 1},
 "encoding": {"x": {"datum": 2.588, "type": "quantitative", "scale": {"domain": [1.3, 3.2], "nice": false, "zero": false}, "axis": null}, "y": {"datum": 3.033, "type": "quantitative", "scale": {"domain": [0, 3.5], "nice": false, "zero": false}, "axis": null}}},
{"data": {"values": [{}]}, "mark": {"type": "text", "text": "BESII", "align": "left", "baseline": "alphabetic", "fontSize": 28, "color": "#ff99ff"},
 "encoding": {"x": {"datum": 2.67, "type": "quantitative", "scale": {"domain": [1.3, 3.2], "nice": false, "zero": false}, "axis": null}, "y": {"datum": 2.984, "type": "quantitative", "scale": {"domain": [0, 3.5], "nice": false, "zero": false}, "axis": null}}},
{"data": {"values": [{}]}, "mark": {"type": "point", "shape": "M-1,0L1,0M0,-1L0,1", "filled": false, "stroke": "#00ffff", "strokeWidth": 2.5, "size": 196, "opacity": 1},
 "encoding": {"x": {"datum": 2.589, "type": "quantitative", "scale": {"domain": [1.3, 3.2], "nice": false, "zero": false}, "axis": null}, "y": {"datum": 1.515, "type": "quantitative", "scale": {"domain": [0, 3.5], "nice": false, "zero": false}, "axis": null}}},
{"data": {"values": [{}]}, "mark": {"type": "text", "text": "two body", "align": "left", "baseline": "alphabetic", "fontSize": 28, "color": "#00ffff"},
 "encoding": {"x": {"datum": 2.67, "type": "quantitative", "scale": {"domain": [1.3, 3.2], "nice": false, "zero": false}, "axis": null}, "y": {"datum": 1.466, "type": "quantitative", "scale": {"domain": [0, 3.5], "nice": false, "zero": false}, "axis": null}}},
{"data": {"values": [{}]}, "mark": {"type": "point", "shape": "circle", "filled": false, "stroke": "#00ff00", "strokeWidth": 2.5, "size": 169, "opacity": 1},
 "encoding": {"x": {"datum": 2.589, "type": "quantitative", "scale": {"domain": [1.3, 3.2], "nice": false, "zero": false}, "axis": null}, "y": {"datum": 1.235, "type": "quantitative", "scale": {"domain": [0, 3.5], "nice": false, "zero": false}, "axis": null}}},
{"data": {"values": [{}]}, "mark": {"type": "text", "text": "ave excl (inc. BaBar)", "align": "left", "baseline": "alphabetic", "fontSize": 28, "color": "#00ff00"},
 "encoding": {"x": {"datum": 2.67, "type": "quantitative", "scale": {"domain": [1.3, 3.2], "nice": false, "zero": false}, "axis": null}, "y": {"datum": 1.188, "type": "quantitative", "scale": {"domain": [0, 3.5], "nice": false, "zero": false}, "axis": null}}},
{"data": {"values": [{}]}, "mark": {"type": "point", "shape": "triangle-up", "filled": false, "stroke": "#0000ff", "strokeWidth": 2.5, "size": 144, "opacity": 1},
 "encoding": {"x": {"datum": 2.589, "type": "quantitative", "scale": {"domain": [1.3, 3.2], "nice": false, "zero": false}, "axis": null}, "y": {"datum": 0.956, "type": "quantitative", "scale": {"domain": [0, 3.5], "nice": false, "zero": false}, "axis": null}}},
{"data": {"values": [{}]}, "mark": {"type": "text", "text": "ave incl (exc. Bess II)", "align": "left", "baseline": "alphabetic", "fontSize": 28, "color": "#0000ff"},
 "encoding": {"x": {"datum": 2.67, "type": "quantitative", "scale": {"domain": [1.3, 3.2], "nice": false, "zero": false}, "axis": null}, "y": {"datum": 0.906, "type": "quantitative", "scale": {"domain": [0, 3.5], "nice": false, "zero": false}, "axis": null}}},
{"data": {"values": [{}]}, "mark": {"type": "rule", "color": "#ff0000", "strokeWidth": 2.5},
 "encoding": {"x": {"datum": 2.538, "type": "quantitative", "scale": {"domain": [1.3, 3.2], "nice": false, "zero": false}, "axis": null}, "x2": {"datum": 2.638}, "y": {"datum": 0.68, "type": "quantitative", "scale": {"domain": [0, 3.5], "nice": false, "zero": false}, "axis": null}}},
{"data": {"values": [{}]}, "mark": {"type": "point", "shape": "M-1,-1L1,1M-1,1L1,-1", "filled": false, "stroke": "#ff0000", "strokeWidth": 2.5, "size": 169, "opacity": 1},
 "encoding": {"x": {"datum": 2.589, "type": "quantitative", "scale": {"domain": [1.3, 3.2], "nice": false, "zero": false}, "axis": null}, "y": {"datum": 0.68, "type": "quantitative", "scale": {"domain": [0, 3.5], "nice": false, "zero": false}, "axis": null}}},
{"data": {"values": [{}]}, "mark": {"type": "text", "text": "all data", "align": "left", "baseline": "alphabetic", "fontSize": 28, "color": "#ff0000"},
 "encoding": {"x": {"datum": 2.686, "type": "quantitative", "scale": {"domain": [1.3, 3.2], "nice": false, "zero": false}, "axis": null}, "y": {"datum": 0.628, "type": "quantitative", "scale": {"domain": [0, 3.5], "nice": false, "zero": false}, "axis": null}}}
],
"resolve": {"axis": {"x": "independent", "y": "independent"}}
}
